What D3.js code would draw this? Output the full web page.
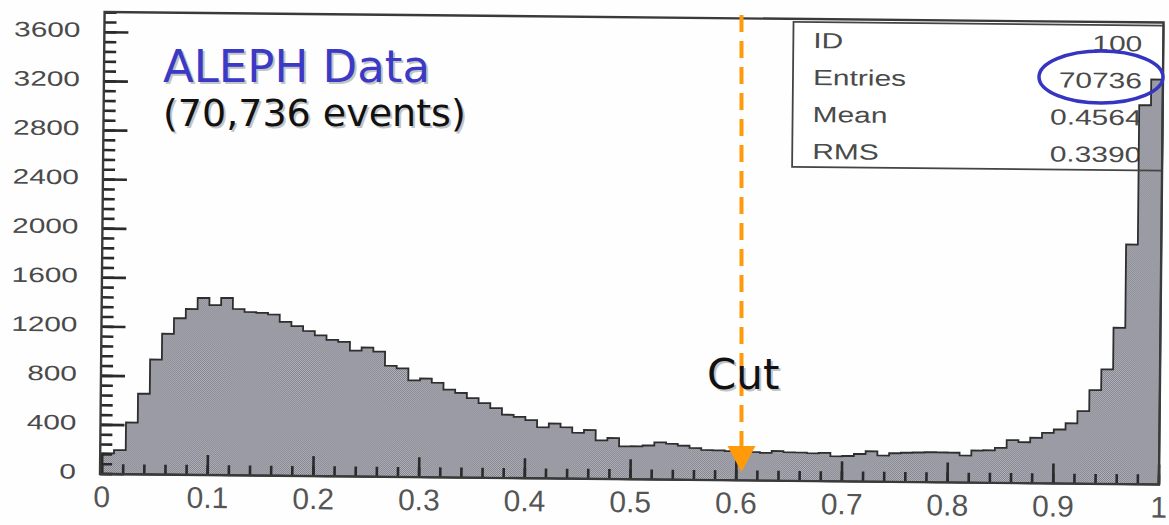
<!DOCTYPE html>
<html>
<head>
<meta charset="utf-8">
<script src="https://cdn.jsdelivr.net/npm/d3@7"></script>
<style>
  html, body { margin: 0; padding: 0; background: #fefefe; }
  svg { display: block; }
</style>
</head>
<body>
<svg id="chart" width="1169" height="525"></svg>
<script>
// Thrust-like discriminant, 90 equal bins on [0, 1]
const nBins = 90;
const counts = [
  170, 196, 422, 658, 937, 1148, 1276, 1352, 1443, 1386,
  1445, 1356, 1332, 1326, 1314, 1255, 1221, 1182, 1148, 1112,
  1097, 1026, 1052, 1020, 906, 885, 789, 804, 771, 716,
  690, 649, 609, 569, 516, 500, 474, 417, 448, 419,
  375, 398, 315, 335, 268, 269, 277, 303, 293, 278,
  260, 245, 243, 238, 234, 232, 226, 242, 233, 232,
  227, 231, 204, 208, 225, 248, 214, 234, 239, 242,
  245, 244, 243, 221, 262, 265, 286, 350, 334, 371,
  412, 441, 492, 592, 764, 934, 1274, 1954, 3090, 3300
];
const xTicks = [0, 0.1, 0.2, 0.3, 0.4, 0.5, 0.6, 0.7, 0.8, 0.9, 1];
const xMinorStep = 0.02;
const yTicks = [0, 400, 800, 1200, 1600, 2000, 2400, 2800, 3200, 3600];
const yMinorStep = 80;
const yMax = 3765;
const statsLabels = ["ID", "Entries", "Mean", "RMS"];
const statsValues = ["100", "70736", "0.4564", "0.3390"];
const cutPosition = 0.605;
const titleText = "ALEPH Data";
const subtitleText = "(70,736 events)";
const cutText = "Cut";

const svg = d3.select("#chart");

// plot frame
const frame = { left: 100, right: 1159, top: 12, bottom: 474 };
const x = d3.scaleLinear().domain([0, 1]).range([102, 1159]);
const y = d3.scaleLinear().domain([0, yMax]).range([frame.bottom, frame.top]);

// stippled fill used by the histogram
const defs = svg.append("defs");
const pat = defs.append("pattern")
  .attr("id", "stipple").attr("patternUnits", "userSpaceOnUse")
  .attr("width", 2).attr("height", 2);
pat.append("rect").attr("width", 2).attr("height", 2).attr("fill", "#b6b6bf");
pat.append("rect").attr("width", 1).attr("height", 1).attr("fill", "#80808a");
pat.append("rect").attr("x", 1).attr("y", 1).attr("width", 1).attr("height", 1).attr("fill", "#80808a");

// the printed plot sits very slightly tilted on the page
const plot = svg.append("g").attr("transform", `rotate(0.57, ${frame.left}, ${frame.bottom})`);

// statistics box (background and text sit under the histogram)
const box = { left: 789, right: frame.right, top: 15, bottom: 160 };
plot.append("rect")
  .attr("x", box.left).attr("y", box.top)
  .attr("width", box.right - box.left).attr("height", box.bottom - box.top)
  .attr("fill", "#ffffff");

const rowY = d3.scaleLinear().domain([0, 3]).range([41, 152]);
const statFont = { family: "'Liberation Sans', Arial, sans-serif", size: 22, fill: "#4a4a4a" };
statsLabels.forEach((lab, i) => {
  plot.append("text")
    .attr("transform", `translate(${box.left + 20},${rowY(i)}) scale(1.36,1)`)
    .attr("font-family", statFont.family).attr("font-size", statFont.size)
    .attr("fill", statFont.fill).text(lab);
  plot.append("text")
    .attr("transform", `translate(${box.right - 21},${rowY(i)}) scale(1.36,1)`)
    .attr("text-anchor", "end")
    .attr("font-family", statFont.family).attr("font-size", statFont.size)
    .attr("fill", statFont.fill).text(statsValues[i]);
});

// histogram
const steps = counts.map((c, i) => [i / nBins, c]);
steps.push([1, counts[counts.length - 1]]);
const area = d3.area()
  .x(d => x(d[0])).y0(y(0)).y1(d => y(d[1]))
  .curve(d3.curveStepAfter);
plot.append("path")
  .attr("d", area(steps))
  .attr("fill", "url(#stipple)")
  .attr("stroke", "#2e2e2e").attr("stroke-width", 1.8)
  .attr("stroke-linejoin", "miter");

// statistics box border
plot.append("rect")
  .attr("x", box.left).attr("y", box.top)
  .attr("width", box.right - box.left).attr("height", box.bottom - box.top)
  .attr("fill", "none").attr("stroke", "#444").attr("stroke-width", 1.8);

// ticks, drawn inward from the frame
const tickColor = "#2a2a2a";
const xMinor = d3.range(0, 1.0001, xMinorStep);
const yMinor = d3.range(0, yMax, yMinorStep);
const tickW = 2.6;
function xTickMarks(values, len) {
  plot.append("g").selectAll("rect").data(values).join("rect")
    .attr("x", d => x(d) - tickW / 2).attr("y", frame.bottom - len)
    .attr("width", tickW).attr("height", len)
    .attr("fill", tickColor);
}
function yTickMarks(values, len) {
  plot.append("g").selectAll("rect").data(values).join("rect")
    .attr("x", frame.left).attr("y", d => y(d) - tickW / 2)
    .attr("width", len).attr("height", tickW)
    .attr("fill", tickColor);
}
xTickMarks(xMinor, 10);
xTickMarks(xTicks, 20);
yTickMarks(yMinor, 12);
yTickMarks(yTicks, 24);

// frame
plot.append("rect")
  .attr("x", frame.left).attr("y", frame.top)
  .attr("width", frame.right - frame.left).attr("height", frame.bottom - frame.top)
  .attr("fill", "none").attr("stroke", "#3a3a3a").attr("stroke-width", 2.4);

// tick labels
const labelFamily = "'Liberation Sans', Arial, sans-serif";
plot.append("g").selectAll("text").data(yTicks).join("text")
  .attr("transform", d => `translate(76,${y(d) + 5}) scale(1.42,1)`)
  .attr("text-anchor", "end")
  .attr("font-family", labelFamily).attr("font-size", 21)
  .attr("fill", "#4a4a4a")
  .text(d => d);
plot.append("g").selectAll("text").data(xTicks).join("text")
  .attr("x", d => x(d)).attr("y", 507)
  .attr("text-anchor", "middle")
  .attr("font-family", labelFamily).attr("font-size", 30)
  .attr("fill", "#555")
  .text(d => (d === 0 || d === 1) ? String(d) : d.toFixed(1));

// annotations on top of the plot
const overlay = svg.append("g");
function shadowText(txt, px, py, size, color) {
  const g = overlay.append("g")
    .attr("font-family", "'DejaVu Sans', Verdana, sans-serif")
    .attr("font-size", size);
  g.append("text").attr("x", px + 2).attr("y", py + 2).attr("fill", "#c4c4c4").text(txt);
  g.append("text").attr("x", px).attr("y", py).attr("fill", color).text(txt);
}
shadowText(titleText, 163, 82, 45, "#3a3ac6");
shadowText(subtitleText, 163, 126, 38, "#111");

// cut marker
const cx = x(cutPosition);
overlay.append("line")
  .attr("x1", cx).attr("x2", cx).attr("y1", 15).attr("y2", 448)
  .attr("stroke", "#ff9a0a").attr("stroke-width", 4)
  .attr("stroke-dasharray", "17,9");
overlay.append("path")
  .attr("d", `M${cx - 14},446 L${cx + 14},446 L${cx},472 Z`)
  .attr("fill", "#ff9a0a");
shadowText(cutText, 707, 389, 42, "#111");

// highlight around the entry count
overlay.append("ellipse")
  .attr("cx", 1101).attr("cy", 77).attr("rx", 62).attr("ry", 26)
  .attr("fill", "none").attr("stroke", "#3535c2").attr("stroke-width", 3.5);
</script>
</body>
</html>
